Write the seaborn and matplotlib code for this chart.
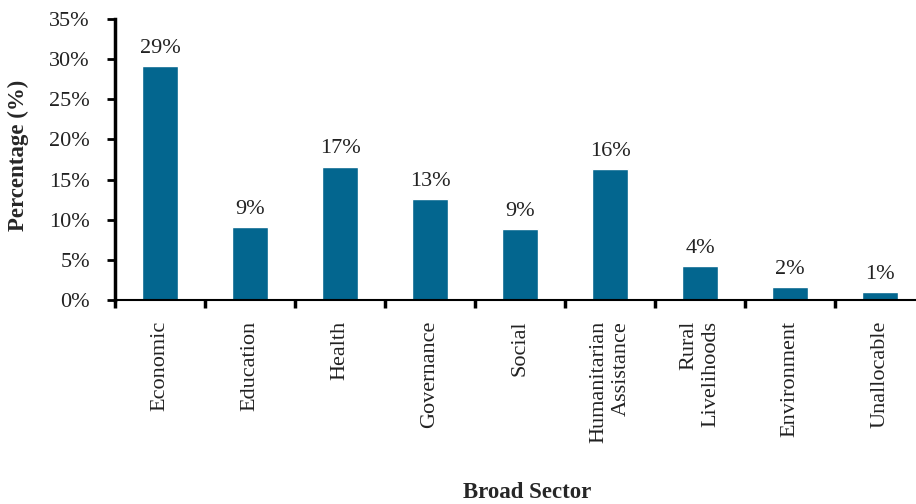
import matplotlib
matplotlib.use("Agg")
import matplotlib.pyplot as plt
import seaborn as sns
import pandas as pd
import numpy as np

categories = ["Economic", "Education", "Health", "Governance", "Social",
              "Humanitarian\nAssistance", "Rural\nLivelihoods", "Environment", "Unallocable"]
values = [29.1, 9.1, 16.6, 12.6, 8.8, 16.3, 4.2, 1.6, 1.0]
y_ticks = [0, 5, 10, 15, 20, 25, 30, 35]

sns.set_style("white")
plt.rcParams['font.family'] = ['Liberation Serif', 'DejaVu Serif']

fig = plt.figure(figsize=(9.16, 5.04), dpi=100)
ax = fig.add_axes([115/916, 1-300/504, 810/916, (300-19)/504])

df = pd.DataFrame({"cat": categories, "val": values})
sns.barplot(data=df, x="cat", y="val", color="#03668F", saturation=1,
            width=0.41, ax=ax)

for cont in ax.containers:
    ax.bar_label(cont, labels=[f"{v:.0f}%" for v in values], padding=6,
                 fontsize=16, color="#222222")

ax.set_xlim(-0.5, 8.5)
ax.set_ylim(0, 35)
ax.set_yticks(y_ticks)
ax.set_yticklabels([f"{t}%" for t in y_ticks])
ax.tick_params(axis="y", direction="out", length=6, width=2, pad=12,
               labelsize=16, left=True, colors="black")
ax.tick_params(axis="y", labelcolor="#222222")
ax.set_xticks(range(len(categories)))
ax.set_xticklabels(categories, rotation=90, fontsize=16, color="#222222",
                   multialignment="right")
ax.tick_params(axis="x", which="major", length=0, pad=15)
ax.set_xticks(np.arange(-0.5, 9, 1), minor=True)
ax.tick_params(axis="x", which="minor", direction="out", length=6, width=2.5,
               bottom=True, color="black")

for s in ["top", "right"]:
    ax.spines[s].set_visible(False)
ax.spines["left"].set_linewidth(2.5)
ax.spines["left"].set_color("black")
ax.spines["bottom"].set_linewidth(1.5)
ax.spines["bottom"].set_color("black")

ax.set_xlabel("")
ax.set_ylabel("")
fig.text(18/916, 1-155/504, "Percentage (%)", ha="center", va="center",
         rotation=90, fontsize=16.5, fontweight="bold")
fig.text(527/916, 1-492/504, "Broad Sector", ha="center", va="center",
         fontsize=16.5, fontweight="bold")

fig.savefig("out.png", dpi=100)
